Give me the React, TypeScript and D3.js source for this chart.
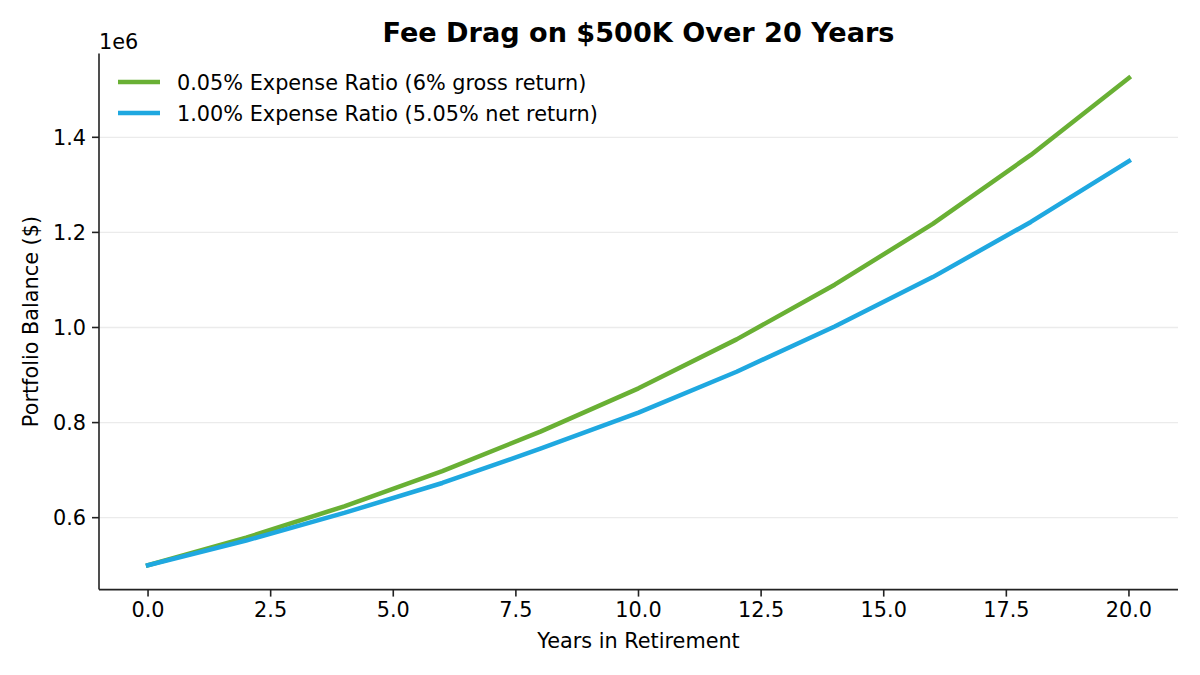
import * as d3 from "d3";

// years are sampled every 2 years
const years = [0, 2, 4, 6, 8, 10, 12, 14, 16, 18, 20];
const lowFee = [500000, 558000, 624000, 698000, 781000, 872000, 975000, 1090000, 1218000, 1363000, 1525000];
const highFee = [500000, 552000, 610000, 673000, 745000, 821000, 907000, 1002000, 1106000, 1222000, 1350000];

const seriesNames = [
  "0.05% Expense Ratio (6% gross return)",
  "1.00% Expense Ratio (5.05% net return)",
];
const seriesColors = ["#69b034", "#1fa8e0"];

const xTicks = [0, 2.5, 5, 7.5, 10, 12.5, 15, 17.5, 20];
const yTicks = [600000, 800000, 1000000, 1200000, 1400000];

const W = 1200;
const H = 675;
const m = { left: 99, right: 1178, top: 53.5, bottom: 589.6 };
const FONT = "DejaVu Sans, sans-serif";
const FS = 20.8;

export default function App() {
  const x = d3.scaleLinear().domain([-1, 21]).range([m.left, m.right]);
  const yMin = 500000 - (1525000 - 500000) * 0.05;
  const yMax = 1525000 + (1525000 - 500000) * 0.05;
  const y = d3.scaleLinear().domain([yMin, yMax]).range([m.bottom, m.top]);

  const line = d3
    .line<number>()
    .x((_, i) => x(years[i]))
    .y((d) => y(d));

  const all = [lowFee, highFee];

  return (
    <svg
      width={W}
      height={H}
      style={{ position: "absolute", left: 0, top: 0, background: "#fff" }}
      fontFamily={FONT}
    >
      {/* grid */}
      {yTicks.map((t) => (
        <line
          key={"g" + t}
          x1={m.left}
          x2={m.right}
          y1={y(t)}
          y2={y(t)}
          stroke="#ebebeb"
          strokeWidth={1.3}
        />
      ))}

      {/* series */}
      {all.map((s, i) => (
        <path
          key={i}
          d={line(s) || ""}
          fill="none"
          stroke={seriesColors[i]}
          strokeWidth={4.5}
          strokeLinejoin="round"
          strokeLinecap="square"
        />
      ))}

      {/* spines */}
      <line x1={m.left} x2={m.left} y1={m.top} y2={m.bottom} stroke="#222" strokeWidth={1.6} />
      <line x1={m.left} x2={m.right} y1={m.bottom} y2={m.bottom} stroke="#222" strokeWidth={1.6} />

      {/* x ticks */}
      {xTicks.map((t) => (
        <g key={"x" + t}>
          <line x1={x(t)} x2={x(t)} y1={m.bottom} y2={m.bottom + 7} stroke="#222" strokeWidth={1.6} />
          <text x={x(t)} y={m.bottom + 27} fontSize={FS} textAnchor="middle" fill="#000">
            {t.toFixed(1)}
          </text>
        </g>
      ))}

      {/* y ticks */}
      {yTicks.map((t) => (
        <g key={"y" + t}>
          <line x1={m.left - 7} x2={m.left} y1={y(t)} y2={y(t)} stroke="#222" strokeWidth={1.6} />
          <text x={m.left - 13} y={y(t) + 7.5} fontSize={FS} textAnchor="end" fill="#000">
            {(t / 1e6).toFixed(1)}
          </text>
        </g>
      ))}
      <text x={m.left} y={49} fontSize={FS} fill="#000">
        1e6
      </text>

      {/* axis labels */}
      <text x={(m.left + m.right) / 2} y={648} fontSize={FS} textAnchor="middle" fill="#000">
        Years in Retirement
      </text>
      <text
        transform={`translate(38, ${(m.top + m.bottom) / 2}) rotate(-90)`}
        fontSize={FS}
        textAnchor="middle"
        fill="#000"
      >
        Portfolio Balance ($)
      </text>

      {/* title */}
      <text
        x={(m.left + m.right) / 2}
        y={42}
        fontSize={27.1}
        fontWeight="bold"
        textAnchor="middle"
        fill="#000"
      >
        Fee Drag on $500K Over 20 Years
      </text>

      {/* legend */}
      {seriesNames.map((name, i) => (
        <g key={name} transform={`translate(0, ${82 + i * 31})`}>
          <line x1={118} x2={160} y1={0} y2={0} stroke={seriesColors[i]} strokeWidth={4.5} />
          <text x={177} y={7.5} fontSize={FS} fill="#000">
            {name}
          </text>
        </g>
      ))}
    </svg>
  );
}
